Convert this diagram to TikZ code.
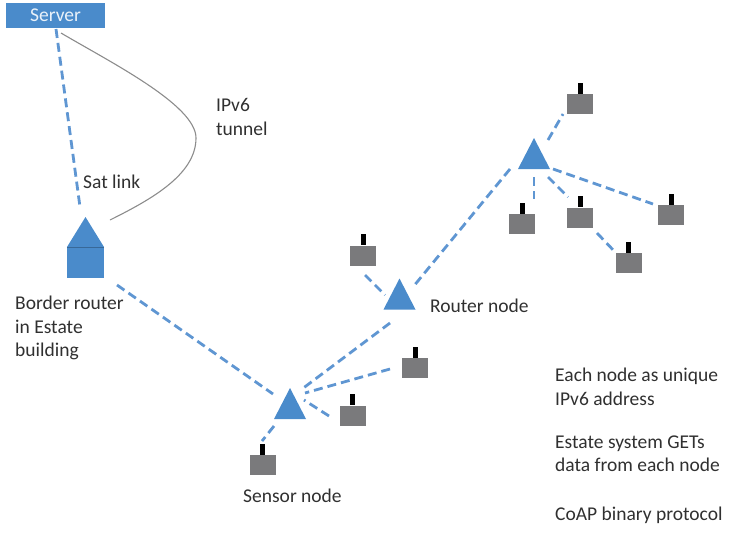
\documentclass[tikz,border=0pt]{standalone}
\usepackage{fontspec}
\setmainfont{Carlito}
\newcommand{\conn}[4]{\draw[link] ([shift={(#2)}]#1.center) -- ([shift={(#4)}]#3.center);}
\definecolor{bluefill}{HTML}{4A8BCB}
\definecolor{linkblue}{HTML}{5F96D2}
\definecolor{sensorgray}{HTML}{7A7A7C}
\definecolor{labeltext}{HTML}{303030}
\tikzset{
  link/.style={draw=linkblue,line width=2.8pt,dash pattern=on 9pt off 5pt},
  tunnelline/.style={draw=black!45,line width=1.1pt},
  tri/.style={draw=none,inner sep=0pt,minimum width=32pt,minimum height=31pt,
    path picture={\fill[bluefill] (path picture bounding box.north) -- (path picture bounding box.south west) -- (path picture bounding box.south east) -- cycle;}},
  roofnode/.style={tri,minimum width=37pt,minimum height=30pt},
  bodynode/.style={fill=bluefill,inner sep=0pt,minimum width=37pt,minimum height=31pt},
  sensor/.style={fill=sensorgray,inner sep=0pt,minimum width=26pt,minimum height=20pt,
    label={[fill=black,inner sep=0pt,minimum width=5pt,minimum height=11pt,label distance=0pt]90:{}}},
  txt/.style={anchor=west,align=left,inner sep=0pt,text=labeltext,font=\fontsize{19.5}{23.5}\selectfont},
}
\begin{document}
\begin{tikzpicture}[x=1pt,y=-1pt]
\useasboundingbox (0,0) rectangle (741,536);
\node[fill=bluefill,inner sep=0pt,minimum width=99pt,minimum height=25pt,text=white!88!bluefill,font=\fontsize{19.5}{20}\selectfont] (server) at (55.5,15.5) {Server};
\node[roofnode] (roof) at (85.5,232) {};
\node[bodynode] (border) at (85.5,262.5) {};
\draw[bluefill!75!black,line width=0.6pt] (border.north west) -- (border.north east);
\node[tri] (top) at (534,153.5) {};
\node[tri] (rtr) at (399.5,294) {};
\node[tri] (snk) at (290,403.5) {};
\node[sensor] (s1) at (580,104) {};
\node[sensor] (s2) at (522,224) {};
\node[sensor] (s3) at (580,217.5) {};
\node[sensor] (s4) at (671,215) {};
\node[sensor] (s5) at (628.5,263) {};
\node[sensor] (s6) at (363,255.5) {};
\node[sensor] (s7) at (415,368) {};
\node[sensor] (s8) at (352.5,415.5) {};
\node[sensor] (s9) at (262.5,465) {};
\coordinate (peak) at (196,138);
\conn{server}{0.5,13.5}{roof}{-5.5,-25}
\conn{border}{31.5,22.5}{snk}{-17,-9.5}
\conn{top}{14,-13.5}{s1}{-17,10}
\conn{top}{-24,15.5}{rtr}{13.5,-7}
\conn{top}{0,23.5}{s2}{12,-25}
\conn{top}{14,23.5}{s3}{-12,-20.5}
\conn{top}{19,15.5}{s4}{-18,-11}
\conn{s3}{17,15.5}{s5}{-12.5,-10}
\conn{s6}{2,19.5}{rtr}{-14.5,1}
\conn{rtr}{-9.5,29}{snk}{12,-14.5}
\conn{s7}{-25,1}{snk}{15,-10.5}
\conn{s8}{-23.5,0.5}{snk}{14,-3.5}
\conn{snk}{-16,22.5}{s9}{-0.5,-24}
\draw[tunnelline] ([shift={(5.5,17.5)}]server.center) .. controls (110,62) and (196,105) .. (peak) .. controls (196,175) and (150,200) .. ([shift={(24.5,-12)}]roof.center);
\node[txt] (tlabel) at (216,117) {IPv6\\tunnel};
\node[txt] (satlabel) at (83,182) {Sat link};
\node[txt] (brlabel) at (15,328) {Border router\\in Estate\\building};
\node[txt] (rlabel) at (430,306) {Router node};
\node[txt] (slabel) at (243,496) {Sensor node};
\node[txt] (n1) at (555,387) {Each node as unique\\IPv6 address};
\node[txt] (n2) at (555,453.5) {Estate system GETs\\data from each node};
\node[txt] (n3) at (555,515) {CoAP binary protocol};
\end{tikzpicture}
\end{document}
